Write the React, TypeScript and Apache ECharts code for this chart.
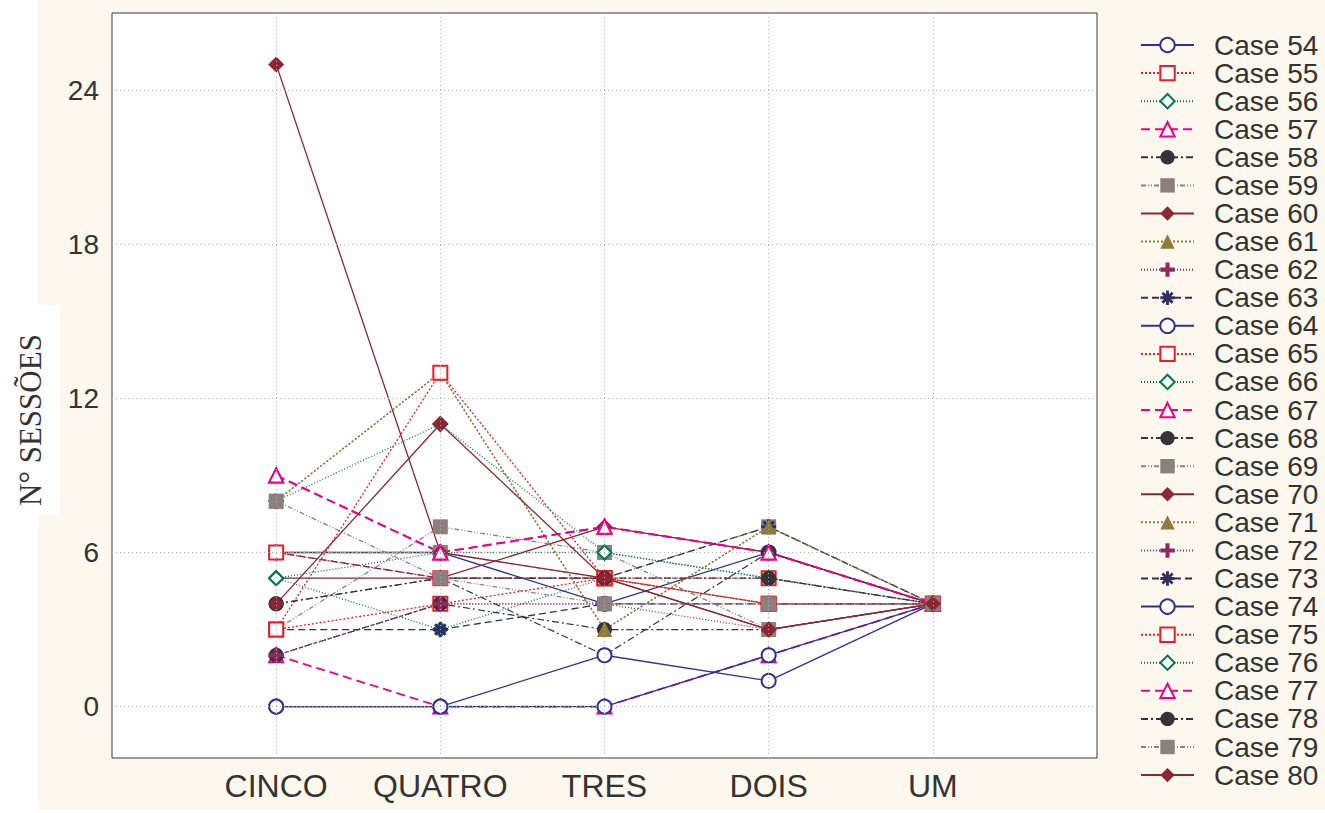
import React, { useEffect, useRef } from "react";
import * as echarts from "echarts";

// Categories along the x axis (positioned at 1..5 on a 0..6 value scale)
const categories = ["CINCO", "QUATRO", "TRES", "DOIS", "UM"];
const yTicks = [0, 6, 12, 18, 24];

// Number of sessions per case, one value per category
const case54 = [6, 6, 4, 6, 4];
const case55 = [3, 4, 5, 5, 4];
const case56 = [5, 6, 6, 5, 4];
const case57 = [2, 0, 0, 2, 4];
const case58 = [2, 4, 3, 3, 4];
const case59 = [6, 6, 5, 7, 4];
const case60 = [5, 5, 7, 6, 4];
const case61 = [8, 13, 3, 7, 4];
const case62 = [2, 4, 4, 3, 4];
const case63 = [6, 5, 5, 7, 4];
const case64 = [0, 0, 0, 2, 4];
const case65 = [6, 5, 5, 4, 4];
const case66 = [5, 3, 5, 4, 4];
const case67 = [9, 6, 7, 6, 4];
const case68 = [4, 5, 2, 6, 4];
const case69 = [3, 7, 6, 3, 4];
const case70 = [25, 6, 5, 3, 4];
const case71 = [8, 13, 3, 7, 4];
const case72 = [2, 4, 4, 4, 4];
const case73 = [3, 3, 4, 4, 4];
const case74 = [0, 0, 2, 1, 4];
const case75 = [3, 13, 5, 4, 4];
const case76 = [8, 11, 6, 5, 4];
const case77 = [9, 6, 7, 6, 4];
const case78 = [4, 5, 5, 5, 4];
const case79 = [8, 5, 4, 4, 4];
const case80 = [4, 11, 5, 3, 4];

const caseNames = [
  "Case 54", "Case 55", "Case 56", "Case 57", "Case 58", "Case 59", "Case 60",
  "Case 61", "Case 62", "Case 63", "Case 64", "Case 65", "Case 66", "Case 67",
  "Case 68", "Case 69", "Case 70", "Case 71", "Case 72", "Case 73", "Case 74",
  "Case 75", "Case 76", "Case 77", "Case 78", "Case 79", "Case 80",
];
const caseValues = [
  case54, case55, case56, case57, case58, case59, case60, case61, case62,
  case63, case64, case65, case66, case67, case68, case69, case70, case71,
  case72, case73, case74, case75, case76, case77, case78, case79, case80,
];

const PLUS =
  "path://M-1.4,-5 L1.4,-5 L1.4,-1.4 L5,-1.4 L5,1.4 L1.4,1.4 L1.4,5 L-1.4,5 L-1.4,1.4 L-5,1.4 L-5,-1.4 L-1.4,-1.4 Z";
const STAR =
  "path://M-1,-5 L1,-5 L1,5 L-1,5 Z M-5,-1 L5,-1 L5,1 L-5,1 Z M-4.2,-2.8 L-2.8,-4.2 L4.2,2.8 L2.8,4.2 Z M2.8,-4.2 L4.2,-2.8 L-2.8,4.2 L-4.2,2.8 Z";

// The ten marker/line styles cycle through the cases in order
const styles = [
  { color: "#2e3192", symbol: "circle", open: true, size: 14, dash: "solid", width: 1.3 },
  { color: "#ed1c24", symbol: "rect", open: true, size: 14, dash: [2, 2], width: 1.3 },
  { color: "#00774a", symbol: "diamond", open: true, size: 14, dash: [1, 2], width: 1.3 },
  { color: "#ec008c", symbol: "triangle", open: true, size: 14, dash: [9, 5], width: 1.8, bw: 3 },
  { color: "#333338", symbol: "circle", open: false, size: 15, dash: [7, 3, 2, 3], width: 1.2 },
  { color: "#8c807e", symbol: "rect", open: false, size: 15, dash: [5, 2, 1, 2, 1, 2], width: 1.3 },
  { color: "#8b2632", symbol: "diamond", open: false, size: 16, dash: "solid", width: 1.3 },
  { color: "#8e7b3a", symbol: "triangle", open: false, size: 15, dash: [2, 2], width: 1.3 },
  { color: "#8e2a5e", symbol: PLUS, open: false, size: 15, dash: [1, 2], width: 1.3 },
  { color: "#2e305f", symbol: STAR, open: false, size: 15, dash: [7, 4], width: 1.3 },
];

const FONT = "'Liberation Sans', Arial, Helvetica, sans-serif";

export default function App() {
  const ref = useRef<HTMLDivElement>(null);

  useEffect(() => {
    if (!ref.current) return;
    const chart = echarts.init(ref.current, undefined, { renderer: "svg" });

    const caseSeries = caseNames.map((name, i) => {
      const s = styles[i % 10];
      return {
        name,
        type: "line",
        data: caseValues[i].map((v, k) => [k + 1, v]),
        symbol: s.open ? "empty" + s.symbol[0].toUpperCase() + s.symbol.slice(1) : s.symbol,
        symbolSize: s.size,
        symbolKeepAspect: true,
        showAllSymbol: true,
        z: 3,
        lineStyle: { color: s.color, width: s.width, type: s.dash },
        itemStyle: {
          color: s.color,
          borderColor: s.color,
          borderWidth: s.open ? (s as any).bw || 2 : 0,
        },
        emphasis: { disabled: true },
      };
    });

    const gridLines = {
      name: "grid",
      type: "line",
      data: [],
      silent: true,
      z: 1,
      markLine: {
        silent: true,
        symbol: ["none", "none"],
        label: { show: false },
        animation: false,
        lineStyle: { color: "#b8adad", type: [1, 3], width: 1 },
        emphasis: { disabled: true },
        data: [
          ...yTicks.map((v) => ({ yAxis: v })),
          ...categories.map((_, i) => ({ xAxis: i + 1 })),
        ],
      },
    };

    chart.setOption({
      animation: false,
      backgroundColor: "#ffffff",
      graphic: [
        {
          type: "rect",
          z: -100,
          silent: true,
          shape: { x: 38, y: 0, width: 1287, height: 810 },
          style: { fill: "#fcf8ee" },
        },
        {
          type: "rect",
          z: -99,
          silent: true,
          shape: { x: 38, y: 305, width: 22, height: 210 },
          style: { fill: "#ffffff" },
        },
        {
          type: "text",
          z: 100,
          x: 30,
          y: 420,
          rotation: Math.PI / 2,
          style: {
            text: "N° SESSÕES",
            fontSize: 31,
            fontFamily: "'Liberation Serif', 'Times New Roman', serif",
            fill: "#333333",
            align: "center",
            verticalAlign: "middle",
            textAlign: "center",
            textVerticalAlign: "middle",
          },
        },
      ],
      grid: {
        left: 112,
        top: 13,
        width: 985,
        height: 745,
        show: true,
        backgroundColor: "#ffffff",
        borderColor: "#3a3a3a",
        borderWidth: 1,
      },
      xAxis: {
        type: "value",
        min: 0,
        max: 6,
        interval: 1,
        axisLine: { show: false },
        axisTick: { show: false },
        splitLine: { show: false },
        axisLabel: {
          formatter: (v: number) => categories[v - 1] ?? "",
          fontSize: 32,
          color: "#333333",
          fontFamily: FONT,
          margin: 12,
        },
      },
      yAxis: {
        type: "value",
        min: -2,
        max: 27,
        axisLine: { show: false },
        axisTick: { show: false },
        splitLine: { show: false },
        axisLabel: {
          customValues: yTicks,
          fontSize: 28,
          color: "#333333",
          fontFamily: FONT,
          margin: 13,
        },
      },
      legend: {
        data: caseNames,
        orient: "vertical",
        left: 1135,
        top: 26,
        itemWidth: 53,
        itemHeight: 18,
        itemGap: 0.08,
        selectedMode: false,
        textStyle: {
          fontSize: 28,
          lineHeight: 28,
          color: "#333333",
          fontFamily: FONT,
          padding: [0, 0, 0, 15],
        },
      },
      series: [gridLines, ...caseSeries],
    });

    return () => chart.dispose();
  }, []);

  return (
    <div
      ref={ref}
      style={{ position: "absolute", left: 0, top: 0, width: 1325, height: 813 }}
    />
  );
}
